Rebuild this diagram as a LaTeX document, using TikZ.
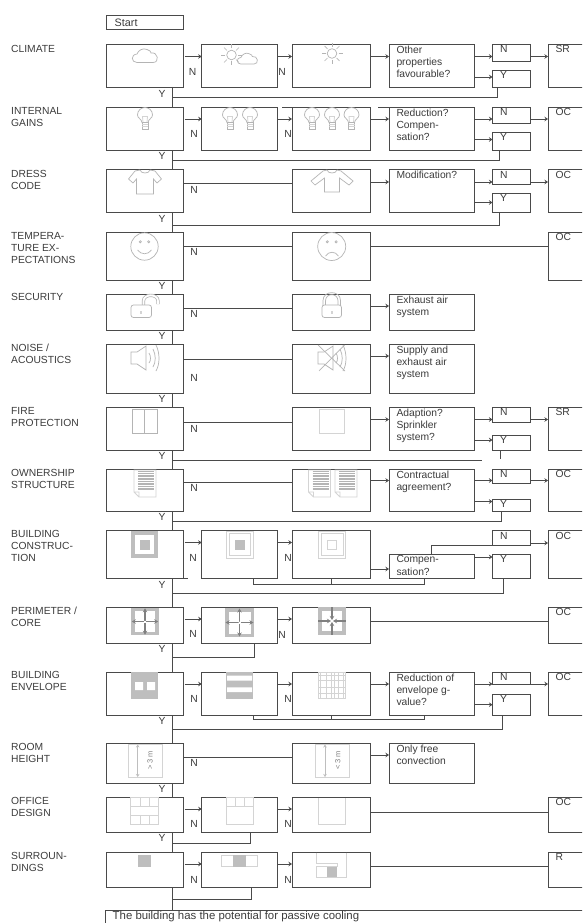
\documentclass[tikz,border=0pt]{standalone}
\usepackage{fontspec}
\setmainfont{Liberation Sans}
\usetikzlibrary{arrows.meta,calc}
\definecolor{ln}{HTML}{4A4A4A}
\definecolor{tx}{HTML}{3C3C3C}
\definecolor{ic}{HTML}{D4D4D4}
\definecolor{fg}{HTML}{BEBEBE}
\definecolor{ar}{HTML}{808080}
\tikzset{
  box/.style={draw=ln,line width=0.85pt,fill=white,inner sep=0pt,outer sep=0pt,anchor=north west},
  conn/.style={draw=ln,line width=0.85pt},
  arr/.style={conn,shorten <=1pt,-{Stealth[length=3.5pt,width=4.5pt]}},
  lbl/.style={text=tx,inner sep=0pt,font=\fontsize{10.3}{12.3}\selectfont},
  blk/.style={lbl,anchor=north west,align=left},
  icon/.style={draw=ic,line width=0.8pt},
  soft/.style={draw=ic!85!black,line width=0.7pt},
  fillg/.style={fill=fg,draw=none},
  arrw/.style={draw=ar,line width=1.3pt,-{Stealth[length=4pt,width=4.5pt]}},
  dim/.style={draw=fg,line width=0.8pt,{Stealth[length=3pt,width=3.5pt]}-{Stealth[length=3pt,width=3.5pt]}}
}
\newcounter{lab}
\newcommand\bx[5]{\node[box,minimum width={(#4-#2)*1pt},minimum height={(#5-#3)*1pt}] (#1) at (#2,#3) {};}
\newcommand\lb[3]{\stepcounter{lab}\node[lbl] (lab\arabic{lab}) at (#1,#2) {#3};}
\newcommand\tb[3]{\stepcounter{lab}\node[blk] (lab\arabic{lab}) at ([shift={(#2,1.5)}]#1.north west) {#3};}
\newcommand\side[2]{\stepcounter{lab}\node[blk] (lab\arabic{lab}) at (11,#1) {#2};}
\newcommand\ha[3]{\draw[arr] (#1.east |- 0,#3) -- (#2.west |- 0,#3);}
\newcommand\hl[3]{\draw[conn] (#1.east |- 0,#3) -- (#2.west |- 0,#3);}
\newcommand\ret[3]{\draw[conn] (tr |- 0,#3) -- (#2,#3) -- (#1.south -| #2,0);}
\newcommand\cloudicon[3]{\begin{scope}[shift={(#1,#2)},scale=#3]
  \draw[soft] (-8,7) .. controls (-14,7) and (-14.5,-1) .. (-8,-1.5) .. controls (-7,-5) and (-2,-8) .. (2,-6) .. controls (5,-5) and (6,-4) .. (6,-2.5) .. controls (13,-4) and (15,7) .. (8,7) -- cycle;
\end{scope}}
\newcommand\sunicon[2]{\begin{scope}[shift={(#1,#2)}]
  \draw[soft] (0,0) circle (4.8);
  \foreach \a in {0,45,...,315}{\draw[soft] (\a:6.5) -- (\a:10.5);}
\end{scope}}
\newcommand\bulbicon[2]{\begin{scope}[shift={(#1,#2)}]
  \draw[soft] (-3,15) .. controls (-3.5,11) and (-7.5,11) .. (-7.5,7.5) .. controls (-7.5,3) and (-4,0) .. (0,0) .. controls (4,0) and (7.5,3) .. (7.5,7.5) .. controls (7.5,11) and (3.5,11) .. (3,15) -- cycle;
  \draw[icon] (-2,15) -- (-2.5,9) -- (2.5,9) -- (2,15);
  \draw[soft] (-3,15) rectangle (3,21.5);
  \draw[icon] (-3,17) -- (3,17) (-3,19) -- (3,19);
\end{scope}}
\newcommand\lockbody[4]{\draw[soft,rounded corners=2.5pt,fill=white] (#1,#2) rectangle (#3,#4);
  \fill[ic] ($(#1,#2)!0.5!(#3,#4)+(-1,0)$) rectangle ++(2,3);}
\newcommand\docicon[2]{\begin{scope}[shift={(#1,#2)}]
  \draw[icon] (0,0) -- (22,0) -- (22,27) -- (5,27) -- (0,22) -- cycle (0,22) -- (5,22) -- (5,27);
  \foreach \k in {0,...,11}{\draw[soft,line width=0.55pt] (4,1.5+1.65*\k) -- (20,1.5+1.65*\k);}
\end{scope}}
\newcommand\speaker[2]{\begin{scope}[shift={(#1,#2)}]
  \draw[soft] (0,6) -- (6,6) -- (15,0) -- (15,24) -- (6,18) -- (0,18) -- cycle;
  \draw[soft] (18,7) .. controls (20,10) and (20,15) .. (18,17);
  \draw[soft] (22,3) .. controls (25,9) and (25,16) .. (22,21);
  \draw[soft] (25,-1) .. controls (29,7) and (29,18) .. (25,25);
\end{scope}}
\newcommand\crossic[4]{\begin{scope}[shift={(#1,#2)}]
  \fill[fg] (-#3,-#3) rectangle (#3,#3);
  \fill[white] (-#3+3.5,-#3+3.5) rectangle (#3-3.5,#3-3.5);
  \ifnum#4=1
    \foreach \a in {0,90,180,270}{\draw[arrw] (\a:1) -- (\a:#3-0.5);}
  \else
    \foreach \a in {0,90,180,270}{\draw[arrw] (\a:#3) -- (\a:1);}
  \fi
  \fill[white] (0,0) circle (1);
\end{scope}}
\begin{document}
\begin{tikzpicture}[x=1pt,y=-1pt]
\clip (0,0) rectangle (582,923);
\fill[white] (0,0) rectangle (582,923);
\coordinate (tr) at (172.7,0);
% ---------- boxes
\bx{start}{106}{15}{183.7}{29.5}
\bx{aa}{106}{44}{183.7}{87}\bx{ab}{201.7}{44}{277.3}{87}\bx{ac}{292}{44}{370}{87}\bx{ad}{389}{44}{474}{87}\bx{an}{492.5}{44}{530}{61}\bx{ay}{492.5}{70}{530}{87}\bx{af}{548}{44}{592}{87}
\bx{ba}{106}{107}{183.7}{150}\bx{bb}{201.7}{107}{277.3}{150}\bx{bc}{292}{107}{370}{150}\bx{bd}{389}{107}{474}{150}\bx{bn}{492.5}{107}{530}{123.5}\bx{by}{492.5}{132}{530}{150}\bx{bf}{548}{107}{592}{150}
\bx{ca}{106}{169.5}{183.7}{212.5}\bx{cc}{292}{169.5}{370}{212.5}\bx{cd}{389}{169.5}{474}{212.5}\bx{cn}{492.5}{169.5}{530}{184}\bx{cy}{492.5}{193}{530}{212.5}\bx{cf}{548}{169.5}{592}{212.5}
\bx{da}{106}{232}{183.7}{280}\bx{dc}{292}{232}{370}{280}\bx{df}{548}{232}{592}{280}
\bx{ea}{106}{294}{183.7}{330.5}\bx{ec}{292}{294}{370}{330.5}\bx{ed}{389}{294}{474}{330.5}
\bx{fa}{106}{344}{183.7}{393}\bx{fc}{292}{344}{370}{393}\bx{fd}{389}{344}{474}{393}
\bx{ga}{106}{407}{183.7}{450}\bx{gc}{292}{407}{370}{450}\bx{gd}{389}{407}{474}{450}\bx{gn}{492.5}{407}{530}{422.5}\bx{gy}{492.5}{435}{530}{450}\bx{gf}{548}{407}{592}{450}
\bx{ha}{106}{469}{183.7}{511.5}\bx{hc}{292}{469}{370}{511.5}\bx{hd}{389}{469}{474}{511.5}\bx{hn}{492.5}{469}{530}{483}\bx{hy}{492.5}{499}{530}{511.5}\bx{hf}{548}{469}{592}{511.5}
\bx{ia}{106}{530.5}{183.7}{578.5}\bx{ib}{201.7}{530.5}{277.3}{578.5}\bx{ic}{292}{530.5}{370}{578.5}\bx{id}{389}{554}{474}{578.5}\bx{in}{492.5}{530.5}{530}{545.5}\bx{iy}{492.5}{554}{530}{578.5}\bx{if}{548}{530.5}{592}{578.5}
\bx{ja}{106}{607}{183.7}{643}\bx{jb}{201.7}{607}{277.3}{643}\bx{jc}{292}{607}{370}{643}\bx{jf}{548}{607}{592}{643}
\bx{ka}{106}{672}{183.7}{715}\bx{kb}{201.7}{672}{277.3}{715}\bx{kc}{292}{672}{370}{715}\bx{kd}{389}{672}{474}{715}\bx{kn}{492.5}{672}{530}{684.5}\bx{ky}{492.5}{694}{530}{715}\bx{kf}{548}{672}{592}{715}
\bx{la}{106}{743.5}{183.7}{783}\bx{lc}{292}{743.5}{370}{783}\bx{ld}{389}{743.5}{474}{783}
\bx{ma}{106}{797}{183.7}{832.5}\bx{mb}{201.7}{797}{277.3}{832.5}\bx{mc}{292}{797}{370}{832.5}\bx{mf}{548}{797}{592}{832.5}
\bx{na}{106}{852}{183.7}{887}\bx{nb}{201.7}{852}{277.3}{887}\bx{nc}{292}{852}{370}{887}\bx{nf}{548}{852}{592}{887}
\bx{fin}{105.5}{910}{592}{935}
% ---------- trunk
\foreach \p/\q in {aa/ba,ba/ca,ca/da,da/ea,ea/fa,fa/ga,ga/ha,ha/ia,ia/ja,ja/ka,ka/la,la/ma,ma/na,na/fin}{\draw[conn] (\p.south -| tr) -- (\q.north -| tr);}
% ---------- horizontals
\ha{aa}{ab}{56.5}\ha{ab}{ac}{56.5}\ha{ac}{ad}{56.5}\ha{ad}{an}{56.5}\ha{ad}{ay}{77}\ha{an}{af}{56.5}
\ha{ba}{bb}{119}\ha{bb}{bc}{119}\ha{bc}{bd}{119}\ha{bd}{bn}{119}\ha{bd}{by}{139.5}\ha{bn}{bf}{119}
\hl{ca}{cc}{183.5}\ha{cc}{cd}{182}\ha{cd}{cn}{182}\ha{cd}{cy}{202.5}\ha{cn}{cf}{182}
\hl{da}{dc}{246}\hl{dc}{df}{246}
\hl{ea}{ec}{308}\ha{ec}{ed}{306}
\hl{fa}{fc}{359}\ha{fc}{fd}{356}
\hl{ga}{gc}{422}\ha{gc}{gd}{419.5}\ha{gd}{gn}{419.5}\ha{gd}{gy}{440}\ha{gn}{gf}{419.5}
\hl{ha}{hc}{482.5}\ha{hc}{hd}{480.5}\ha{hd}{hn}{480.5}\ha{hd}{hy}{501.5}\ha{hn}{hf}{480.5}
\ha{ia}{ib}{542.5}\ha{ib}{ic}{542.5}\ha{ic}{id}{569}\ha{id}{iy}{557}\ha{in}{if}{543}
\ha{ja}{jb}{619}\ha{jb}{jc}{619}\hl{jc}{jf}{621}
\ha{ka}{kb}{684}\ha{kb}{kc}{684}\ha{kc}{kd}{684}\ha{kd}{kn}{684}\ha{kd}{ky}{704.7}\ha{kn}{kf}{684}
\hl{la}{lc}{757.5}\ha{lc}{ld}{755}
\ha{ma}{mb}{809}\ha{mb}{mc}{809}\hl{mc}{mf}{812}
\ha{na}{nb}{864}\ha{nb}{nc}{864}\hl{nc}{nf}{866}
% ---------- returns
\ret{ay}{497}{97.5}
\ret{by}{499}{160}
\ret{cy}{499.5}{225}
\draw[conn] (tr |- 0,460) -- (481.5,460);
\draw[conn] (gy.south -| 500,0) -- (500,459);
\ret{hy}{501.3}{521.5}
\ret{iy}{503.5}{593.5}
\ret{jb}{254.5}{657.5}
\ret{ky}{502.3}{729.5}
\ret{mb}{250.5}{843}
\ret{nb}{251.5}{899}
% ---------- inner feedback lines
\draw[conn] (ib.south -| 253.5,0) -- (253.5,584.5) -- (424.5,584.5) -- (id.south -| 424.5,0);
\draw[conn] (ic.south) -- (ic.south |- 0,584.5);
\draw[conn] (kb.south -| 253.5,0) -- (253.5,719) -- (424.5,719) -- (kd.south -| 424.5,0);
\draw[conn] (kc.south) -- (kc.south |- 0,719);
\draw[conn] (id.north -| 431.7,0) -- (431.7,545.5) -- (in.south west);
\draw[conn] (ia.south east) -- ++(4.5,0);
\draw[conn] (282,107) -- (bc.north west);
\draw[conn] (378,107) -- (bd.north west);
% ---------- labels in boxes
\stepcounter{lab}\node[lbl,font=\fontsize{10.8}{12.3}\selectfont,anchor=west] (startlab) at ([xshift=8.5pt,yshift=-0.5pt]start.west) {Start};
\tb{ad}{7.3}{Other\\properties\\favourable?}
\tb{bd}{7.3}{Reduction?\\Compen-\\sation?}
\tb{cd}{7.3}{Modification?}
\tb{ed}{7.3}{Exhaust air\\system}
\tb{fd}{7.3}{Supply and\\exhaust air\\system}
\tb{gd}{7.3}{Adaption?\\Sprinkler\\system?}
\tb{hd}{7.3}{Contractual\\agreement?}
\tb{id}{7.3}{Compen-\\sation?}
\tb{kd}{7.3}{Reduction of\\envelope g-\\value?}
\tb{ld}{7.3}{Only free\\convection}
\foreach \n in {an,bn,cn,gn,hn,in,kn}{\tb{\n}{7.3}{N}}
\foreach \n in {ay,by,cy,gy,hy,iy,ky}{\tb{\n}{7.3}{Y}}
\tb{af}{7.3}{SR}\tb{bf}{7.3}{OC}\tb{cf}{7.3}{OC}\tb{df}{7.3}{OC}\tb{gf}{7.3}{SR}\tb{hf}{7.3}{OC}\tb{if}{7.3}{OC}\tb{jf}{7.3}{OC}\tb{kf}{7.3}{OC}\tb{mf}{7.3}{OC}\tb{nf}{7.3}{R}
\stepcounter{lab}\node[blk,font=\fontsize{11.4}{13}\selectfont] (finlab) at ([shift={(7,1.5)}]fin.north west) {The building has the potential for passive cooling};
% N labels
\lb{192.7}{72}{N}\lb{282}{72}{N}
\lb{194}{134}{N}\lb{288}{134}{N}
\lb{194}{189.5}{N}\lb{194}{252}{N}\lb{194}{314}{N}\lb{194}{378}{N}\lb{194}{429}{N}\lb{194}{488}{N}
\lb{193}{558}{N}\lb{288}{558}{N}
\lb{193}{634}{N}\lb{282}{635}{N}
\lb{194}{699}{N}\lb{288}{699}{N}
\lb{194}{763}{N}
\lb{194}{824}{N}\lb{288}{824}{N}
\lb{194}{880}{N}\lb{288}{880}{N}
% Y labels
\foreach \yy in {94,156,219,286,336,399,456,517,585,649,721,789,838}{\lb{162}{\yy}{Y}}
% side labels
\side{45}{CLIMATE}
\side{107}{INTERNAL\\GAINS}
\side{170}{DRESS\\CODE}
\side{232}{TEMPERA-\\TURE EX-\\PECTATIONS}
\side{293}{SECURITY}
\side{344}{NOISE /\\ACOUSTICS}
\side{407}{FIRE\\PROTECTION}
\side{469}{OWNERSHIP\\STRUCTURE}
\side{530}{BUILDING\\CONSTRUC-\\TION}
\side{607}{PERIMETER /\\CORE}
\side{671}{BUILDING\\ENVELOPE}
\side{743}{ROOM\\HEIGHT}
\side{797}{OFFICE\\DESIGN}
\side{852}{SURROUN-\\DINGS}
% ---------- icons
\cloudicon{145}{55.5}{1}
\sunicon{231.5}{55}\cloudicon{247.5}{58.5}{0.8}
\sunicon{332}{53.5}
\bulbicon{145}{107.5}
\bulbicon{230}{107.5}\bulbicon{250}{107.5}
\bulbicon{312}{107.5}\bulbicon{332}{107.5}\bulbicon{351.5}{107.5}
\draw[soft] (140,170) .. controls (141,174) and (149,174) .. (150,170) -- (155,171) -- (161.5,179) -- (157,183) -- (153.5,179) -- (153.5,194) -- (136.5,194) -- (136.5,179) -- (133,183) -- (128.5,179) -- (135,171) -- cycle;
\draw[soft] (327,170) .. controls (328,174) and (336,174) .. (337,170) -- (341,171) -- (353,181) -- (349,185) -- (339.5,178) -- (339.5,192) -- (324.5,192) -- (324.5,178) -- (315,185) -- (311,181) -- (323,171) -- cycle;
% faces
\draw[soft] (144.5,246.5) circle (13.7);
\draw[soft] (140.3,241.8) circle (1.1) (148.7,241.8) circle (1.1);
\draw[soft] (137.5,250) .. controls (141,255) and (148,255) .. (151.5,250);
\draw[soft] (331.7,246.5) circle (14);
\draw[soft] (327.3,241.8) circle (1.1) (336.1,241.8) circle (1.1);
\draw[soft] (325.5,256) .. controls (329,251) and (335,251) .. (338.5,256);
% locks
\draw[ic!85!black,line width=3.2pt] (143.5,306) -- (143.5,301) .. controls (143.5,293.5) and (158,293.5) .. (158,301) -- (158,304);
\draw[white,line width=1.8pt] (143.5,306) -- (143.5,301) .. controls (143.5,293.5) and (158,293.5) .. (158,301) -- (158,304);
\lockbody{131}{305}{151.5}{317.5}
\draw[soft] (325.5,306) -- (325.5,301) .. controls (325.5,292.5) and (338,292.5) .. (338,301) -- (338,306);
\draw[soft] (323,306) -- (323,300.5) .. controls (323,290) and (340.5,290) .. (340.5,300.5) -- (340.5,306);
\lockbody{322}{305}{341.5}{317.5}
% speakers
\speaker{131}{346}
\speaker{318}{346}
\draw[soft] (318,345) -- (345,371) (344.5,345) -- (319,371);
% doors
\draw[soft] (132.5,409) rectangle (157,433) (144.7,409) -- (144.7,433);
\draw[icon] (319,409) rectangle (344.5,433);
% documents
\docicon{134}{470}
\docicon{308.5}{470}\docicon{335}{470}
% squares
\fill[fg] (131,531) rectangle (158.3,558.3);
\fill[white] (135,535) rectangle (154.3,554.3);
\fill[fg] (140,540) rectangle (149.5,549.5);
\draw[icon] (226,531) rectangle (253,558);
\draw[icon] (229,533.5) rectangle (250,555.5);
\fill[fg] (234.5,540) rectangle (244.5,549.5);
\draw[icon] (318.5,531) rectangle (345.5,558);
\draw[icon] (321,533.5) rectangle (343,555.5);
\draw[icon] (327.3,540) rectangle (336.5,549.5);
% arrows squares
\crossic{145}{621.5}{13.7}{1}
\crossic{239.5}{622.5}{14.5}{1}
\crossic{332}{621}{13.7}{0}
% envelope
\fill[fg] (131,672) rectangle (158.3,698.7);
\fill[white] (135,682) rectangle (143,690) (147,682) rectangle (155,690);
\fill[fg] (226,672) rectangle (252.7,698.7);
\fill[white] (227,675.7) rectangle (252,680.7) (227,687.3) rectangle (252,692);
\draw[icon,line width=0.6pt] (318.3,672.5) rectangle (345,698.7);
\foreach \xx in {320,326.5,331.5,334,338.5,343.5}{\draw[icon,line width=0.6pt] (\xx,672.5) -- (\xx,698.7);}
\foreach \yy in {675,680.7,687.3,693}{\draw[icon,line width=0.6pt] (318.3,\yy) -- (345,\yy);}
% room height
\draw[icon] (128.3,744) rectangle (162.3,777.3);
\draw[dim] (137.7,744.5) -- (137.7,777);
\node[lbl,text=ar,rotate=90,font=\fontsize{7.5}{9}\selectfont] (gt) at (150,760.5) {> 3 m};
\draw[icon] (315.7,744) rectangle (349.3,777.3);
\draw[dim] (325,744.5) -- (325,777);
\node[lbl,text=ar,rotate=90,font=\fontsize{7.5}{9}\selectfont] (lt) at (337.7,760.5) {< 3 m};
% offices
\draw[icon] (130.7,797.7) rectangle (158.3,824);
\draw[icon] (130.7,806) -- (158.3,806) (130.7,815) -- (158.3,815);
\draw[icon] (140,797.7) -- (140,806) (149,797.7) -- (149,806) (140,815) -- (140,824) (149,815) -- (149,824);
\draw[icon] (226,797.7) rectangle (253.3,824);
\draw[icon] (226,806) -- (253.3,806) (235,797.7) -- (235,806) (244.3,797.7) -- (244.3,806);
\draw[icon] (318.3,798) -- (318.3,824) -- (345.7,824) -- (345.7,798);
% surroundings
\fill[fg] (138.3,855) rectangle (150.7,866.7);
\draw[icon] (221,855) rectangle (257.7,866.7);
\fill[fg] (233.3,855) rectangle (245.7,866.7);
\draw[icon] (316.7,852.5) -- (316.7,863) -- (337,863) -- (337,866.7) (346.7,852.5) -- (346.7,877.7) -- (316.7,877.7) -- (316.7,866.7) -- (337,866.7);
\fill[fg] (327.3,867) rectangle (337,877.4);
\end{tikzpicture}
\end{document}
